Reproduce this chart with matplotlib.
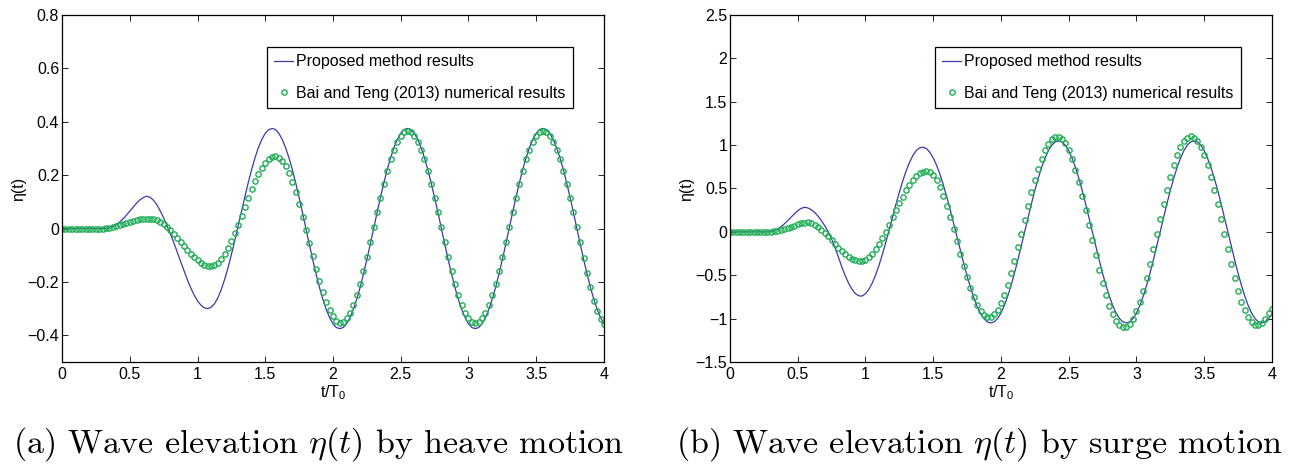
import numpy as np
import matplotlib
matplotlib.use('Agg')
import matplotlib.pyplot as plt

plt.rcParams['font.family'] = ['Liberation Sans', 'DejaVu Sans']
plt.rcParams['mathtext.fontset'] = 'custom'
plt.rcParams['mathtext.rm'] = 'Liberation Sans'
plt.rcParams['mathtext.it'] = 'Liberation Sans:italic'

# sampling in t/T0 (every 0.025)
t_over_T0 = np.linspace(0, 4, 161)

# (a) heave motion
heave_model = [
    0.000, 0.000, 0.000, 0.000, 0.000, 0.000, 0.000, 0.000, 0.000, 0.000,
    0.000, 0.000, 0.000, 0.000, 0.002, 0.007, 0.014, 0.024, 0.036, 0.050,
    0.065, 0.080, 0.095, 0.107, 0.116, 0.121, 0.117, 0.106, 0.089, 0.066,
    0.040, 0.011, -0.020, -0.053, -0.088, -0.124, -0.159, -0.192, -0.222, -0.249,
    -0.271, -0.287, -0.297, -0.300, -0.295, -0.282, -0.260, -0.229, -0.191, -0.147,
    -0.098, -0.045, 0.010, 0.065, 0.120, 0.173, 0.222, 0.266, 0.304, 0.334,
    0.357, 0.370, 0.375, 0.371, 0.357, 0.334, 0.303, 0.265, 0.221, 0.170,
    0.116, 0.059, 0.000, -0.059, -0.116, -0.170, -0.221, -0.265, -0.303, -0.334,
    -0.357, -0.371, -0.375, -0.371, -0.357, -0.334, -0.303, -0.265, -0.221, -0.170,
    -0.116, -0.059, 0.000, 0.059, 0.116, 0.170, 0.221, 0.265, 0.303, 0.334,
    0.357, 0.371, 0.375, 0.371, 0.357, 0.334, 0.303, 0.265, 0.221, 0.170,
    0.116, 0.059, 0.000, -0.059, -0.116, -0.170, -0.221, -0.265, -0.303, -0.334,
    -0.357, -0.371, -0.375, -0.371, -0.357, -0.334, -0.303, -0.265, -0.221, -0.170,
    -0.116, -0.059, 0.000, 0.059, 0.116, 0.170, 0.221, 0.265, 0.303, 0.334,
    0.357, 0.371, 0.375, 0.371, 0.357, 0.334, 0.303, 0.265, 0.221, 0.170,
    0.116, 0.059, 0.000, -0.059, -0.116, -0.170, -0.221, -0.265, -0.303, -0.334,
    -0.357,
]
heave_ref = [
    0.000, 0.000, 0.000, 0.000, 0.000, 0.000, 0.000, 0.000, 0.000, 0.000,
    0.000, 0.000, 0.000, 0.001, 0.003, 0.006, 0.009, 0.013, 0.017, 0.021,
    0.025, 0.029, 0.032, 0.035, 0.036, 0.037, 0.037, 0.036, 0.032, 0.025,
    0.016, 0.005, -0.007, -0.021, -0.036, -0.052, -0.067, -0.082, -0.096, -0.108,
    -0.119, -0.128, -0.135, -0.139, -0.140, -0.137, -0.129, -0.115, -0.097, -0.074,
    -0.047, -0.017, 0.015, 0.048, 0.082, 0.115, 0.147, 0.177, 0.204, 0.227,
    0.245, 0.259, 0.267, 0.270, 0.266, 0.254, 0.234, 0.208, 0.174, 0.135,
    0.092, 0.045, -0.004, -0.054, -0.104, -0.153, -0.198, -0.239, -0.276, -0.306,
    -0.329, -0.345, -0.355, -0.351, -0.337, -0.316, -0.286, -0.250, -0.207, -0.158,
    -0.106, -0.051, 0.005, 0.061, 0.116, 0.168, 0.217, 0.260, 0.296, 0.326,
    0.347, 0.361, 0.365, 0.361, 0.347, 0.326, 0.296, 0.260, 0.217, 0.168,
    0.116, 0.061, 0.005, -0.051, -0.106, -0.158, -0.207, -0.250, -0.286, -0.316,
    -0.337, -0.351, -0.355, -0.351, -0.337, -0.316, -0.286, -0.250, -0.207, -0.158,
    -0.106, -0.051, 0.005, 0.061, 0.116, 0.168, 0.217, 0.260, 0.296, 0.326,
    0.347, 0.361, 0.365, 0.361, 0.347, 0.326, 0.296, 0.260, 0.217, 0.168,
    0.116, 0.061, 0.005, -0.051, -0.110, -0.165, -0.220, -0.272, -0.310, -0.339,
    -0.359,
]

# (b) surge motion
surge_model = [
    0.000, 0.000, 0.000, 0.000, 0.000, 0.000, 0.000, 0.000, 0.000, 0.000,
    0.000, 0.000, 0.002, 0.012, 0.030, 0.057, 0.090, 0.128, 0.168, 0.207,
    0.243, 0.270, 0.283, 0.276, 0.256, 0.224, 0.182, 0.130, 0.070, 0.002,
    -0.080, -0.180, -0.290, -0.400, -0.502, -0.590, -0.660, -0.710, -0.737, -0.740,
    -0.714, -0.664, -0.591, -0.497, -0.386, -0.259, -0.121, 0.022, 0.169, 0.317,
    0.456, 0.586, 0.701, 0.801, 0.880, 0.937, 0.969, 0.976, 0.960, 0.918,
    0.854, 0.768, 0.664, 0.541, 0.404, 0.258, 0.104, -0.053, -0.209, -0.362,
    -0.506, -0.640, -0.758, -0.861, -0.942, -1.001, -1.038, -1.050, -1.037, -0.999,
    -0.936, -0.849, -0.742, -0.617, -0.477, -0.324, -0.164, 0.000, 0.164, 0.324,
    0.477, 0.617, 0.742, 0.849, 0.936, 0.999, 1.037, 1.050, 1.037, 0.999,
    0.936, 0.849, 0.742, 0.617, 0.477, 0.324, 0.164, 0.000, -0.164, -0.324,
    -0.477, -0.617, -0.742, -0.849, -0.936, -0.999, -1.037, -1.050, -1.037, -0.999,
    -0.936, -0.849, -0.742, -0.617, -0.477, -0.324, -0.164, 0.000, 0.164, 0.324,
    0.477, 0.617, 0.742, 0.849, 0.936, 0.999, 1.037, 1.050, 1.037, 0.999,
    0.936, 0.849, 0.742, 0.617, 0.477, 0.324, 0.164, 0.000, -0.164, -0.324,
    -0.477, -0.617, -0.742, -0.849, -0.936, -0.999, -1.037, -1.050, -1.037, -0.999,
    -0.950,
]
surge_ref = [
    0.000, 0.000, 0.000, 0.000, 0.000, 0.000, 0.000, 0.000, 0.000, 0.000,
    0.000, 0.000, 0.002, 0.006, 0.013, 0.022, 0.033, 0.045, 0.059, 0.073,
    0.087, 0.099, 0.106, 0.111, 0.100, 0.082, 0.056, 0.025, -0.012, -0.053,
    -0.096, -0.139, -0.182, -0.222, -0.258, -0.288, -0.312, -0.328, -0.335, -0.334,
    -0.319, -0.291, -0.252, -0.202, -0.141, -0.072, 0.003, 0.083, 0.166, 0.248,
    0.329, 0.407, 0.478, 0.543, 0.597, 0.641, 0.674, 0.693, 0.700, 0.687,
    0.651, 0.593, 0.512, 0.412, 0.297, 0.168, 0.031, -0.111, -0.254, -0.394,
    -0.526, -0.648, -0.754, -0.842, -0.910, -0.956, -0.978, -0.976, -0.948, -0.896,
    -0.821, -0.725, -0.610, -0.479, -0.334, -0.180, -0.021, 0.141, 0.300, 0.454,
    0.599, 0.730, 0.845, 0.941, 1.016, 1.068, 1.096, 1.098, 1.073, 1.021,
    0.942, 0.840, 0.717, 0.575, 0.419, 0.252, 0.079, -0.097, -0.269, -0.435,
    -0.589, -0.730, -0.851, -0.951, -1.027, -1.076, -1.099, -1.093, -1.060, -1.000,
    -0.914, -0.805, -0.676, -0.530, -0.370, -0.201, -0.027, 0.149, 0.320, 0.483,
    0.634, 0.768, 0.884, 0.977, 1.044, 1.086, 1.100, 1.086, 1.045, 0.977,
    0.884, 0.768, 0.634, 0.483, 0.320, 0.149, -0.027, -0.201, -0.370, -0.530,
    -0.676, -0.805, -0.896, -0.980, -1.039, -1.071, -1.077, -1.054, -1.006, -0.932,
    -0.885,
]

x_ticks = [0, 0.5, 1, 1.5, 2, 2.5, 3, 3.5, 4]
x_ticklabels = ['0', '0.5', '1', '1.5', '2', '2.5', '3', '3.5', '4']
heave_yticks = [-0.4, -0.2, 0, 0.2, 0.4, 0.6, 0.8]
heave_yticklabels = ['\u22120.4', '\u22120.2', '0', '0.2', '0.4', '0.6', '0.8']
surge_yticks = [-1.5, -1, -0.5, 0, 0.5, 1, 1.5, 2, 2.5]
surge_yticklabels = ['\u22121.5', '\u22121', '\u22120.5', '0', '0.5', '1', '1.5', '2', '2.5']

line_blue = '#3a3aa8'
dot_green = '#1fae55'
fs = 11.5

fig = plt.figure(figsize=(13, 4.7), dpi=100)


def draw_panel(left, model, ref, ylim, yticks, yticklabels, caption, cap_x):
    ax = fig.add_axes([left, 0.2298, 0.4169, 0.7383])
    ax.plot(t_over_T0, model, color=line_blue, lw=0.9,
            label='Proposed method results')
    ax.plot(t_over_T0, ref, ls='none', marker='o', ms=3.8, mfc='none',
            mec=dot_green, mew=1.0,
            label='Bai and Teng (2013) numerical results')
    ax.set_xlim(0, 4)
    ax.set_ylim(*ylim)
    ax.set_xticks(x_ticks)
    ax.set_xticklabels(x_ticklabels)
    ax.set_yticks(yticks)
    ax.set_yticklabels(yticklabels)
    ax.tick_params(direction='in', top=True, right=True, length=4,
                   width=0.6, labelsize=fs)
    ax.tick_params(axis='y', pad=2)
    ax.tick_params(axis='x', pad=3.5)
    for s in ax.spines.values():
        s.set_linewidth(0.9)
    ax.set_xlabel(r'$\mathrm{t/T_0}$', fontsize=fs)
    ax.xaxis.set_label_coords(0.5, -0.062)
    ax.set_ylabel('\u03b7(t)', fontsize=fs)
    ax.yaxis.set_label_coords(-0.066, 0.5)
    leg = ax.legend(loc='upper left', bbox_to_anchor=(0.378, 0.908),
                    borderaxespad=0, fontsize=fs, numpoints=1,
                    handlelength=1.2, handletextpad=0.2, borderpad=0.45,
                    labelspacing=1.05, fancybox=False, framealpha=1,
                    edgecolor='black')
    leg.get_frame().set_linewidth(0.9)
    fig.text(cap_x, 0.055, caption, ha='center', va='center', fontsize=24.5,
             family='cmr10', math_fontfamily='cm')
    return ax


draw_panel(0.0477, heave_model, heave_ref, (-0.5, 0.8), heave_yticks,
           heave_yticklabels, r'(a) Wave elevation $\eta(t)$ by heave motion', 0.245)
draw_panel(0.5615, surge_model, surge_ref, (-1.5, 2.5), surge_yticks,
           surge_yticklabels, r'(b) Wave elevation $\eta(t)$ by surge motion', 0.753)

fig.savefig('out.png', dpi=100)
